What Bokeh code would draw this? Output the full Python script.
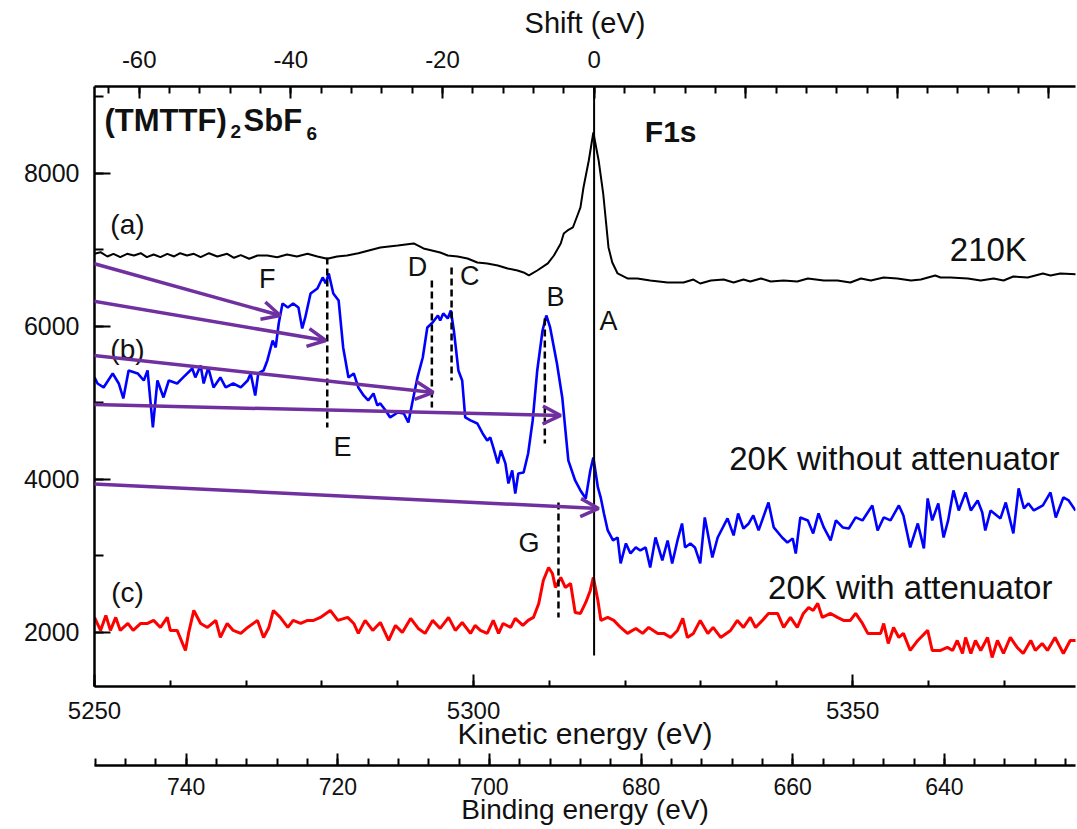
from bokeh.plotting import figure
from bokeh.models import (Range1d, LinearAxis, SingleIntervalTicker, FixedTicker,
                          Label, Arrow, OpenHead, ColumnDataSource)
from bokeh.embed import file_html
from bokeh.resources import INLINE

FONT = "Liberation Sans"
PURPLE = "#7030A0"

# ---------------- data (kinetic energy eV, counts) ----------------
curve_a_210K = [
    (5250.0, 6950), (5250.8, 6971), (5251.7, 6915), (5252.5, 6950), (5253.4, 6906),
    (5254.3, 6950), (5255.2, 6928), (5256.1, 6958), (5256.9, 6906), (5257.8, 6941),
    (5258.7, 6906), (5259.6, 6950), (5260.5, 6915), (5261.3, 6958), (5262.2, 6928),
    (5263.1, 6950), (5264.0, 6906), (5265.1, 6958), (5266.2, 6915), (5267.5, 6950),
    (5268.4, 6898), (5269.3, 6932), (5270.4, 6885), (5271.5, 6928), (5272.8, 6928),
    (5274.1, 6906), (5275.4, 6941), (5276.7, 6915), (5278.1, 6950), (5279.4, 6915),
    (5280.7, 6885), (5282.0, 6915), (5283.3, 6928), (5284.8, 6958), (5287.7, 7033),
    (5290.0, 7059), (5292.1, 7085), (5293.4, 7020), (5295.6, 6967), (5296.6, 6928),
    (5297.9, 6915), (5299.2, 6889), (5300.5, 6837), (5301.8, 6824), (5303.2, 6797),
    (5304.5, 6758), (5305.8, 6732), (5306.6, 6706), (5307.3, 6667), (5308.4, 6732),
    (5309.8, 6824), (5310.6, 6928), (5311.5, 7085), (5311.9, 7216), (5312.4, 7255),
    (5313.1, 7294), (5313.7, 7451), (5314.1, 7556), (5314.5, 7817), (5315.2, 8170),
    (5315.8, 8536), (5316.5, 8170), (5317.1, 7738), (5317.8, 7033), (5318.3, 6837),
    (5319.0, 6693), (5320.3, 6628), (5321.6, 6628), (5323.3, 6601), (5325.6, 6575),
    (5327.7, 6575), (5329.0, 6614), (5329.9, 6562), (5331.3, 6601), (5333.0, 6614),
    (5334.3, 6575), (5335.6, 6614), (5336.5, 6588), (5337.9, 6628), (5339.2, 6588),
    (5340.9, 6601), (5342.7, 6588), (5344.1, 6628), (5346.2, 6601), (5348.0, 6601),
    (5349.7, 6575), (5351.1, 6628), (5352.4, 6601), (5354.1, 6641), (5355.9, 6628),
    (5357.7, 6601), (5359.0, 6614), (5360.9, 6667), (5361.6, 6641), (5362.9, 6641),
    (5365.2, 6628), (5366.9, 6601), (5368.6, 6628), (5369.9, 6601), (5371.2, 6654),
    (5373.1, 6641), (5375.1, 6693), (5376.1, 6667), (5377.4, 6693), (5379.7, 6680),
]

curve_b_20K_no_att = [
    (5250.0, 5334), (5250.4, 5255), (5251.2, 5203), (5252.4, 5386), (5253.2, 5255),
    (5253.8, 5059), (5254.5, 5425), (5255.7, 5386), (5256.5, 5294), (5257.0, 5425),
    (5257.7, 4680), (5258.3, 5294), (5259.1, 5072), (5259.8, 5294), (5260.9, 5255),
    (5261.7, 5334), (5262.9, 5451), (5263.3, 5334), (5264.0, 5490), (5264.4, 5255),
    (5265.0, 5464), (5265.7, 5203), (5266.6, 5334), (5267.3, 5203), (5268.3, 5255),
    (5269.3, 5203), (5270.2, 5294), (5270.6, 5386), (5271.2, 5098), (5271.6, 5386),
    (5272.3, 5425), (5272.8, 5556), (5273.5, 5817), (5273.9, 5726), (5274.3, 6039),
    (5274.8, 6301), (5275.5, 6249), (5276.2, 6301), (5276.9, 6249), (5277.4, 5974),
    (5277.8, 6118), (5278.5, 6431), (5279.4, 6497), (5280.1, 6641), (5280.5, 6562),
    (5280.9, 6693), (5281.5, 6431), (5282.2, 6340), (5282.8, 5726), (5283.5, 5334),
    (5284.2, 5386), (5284.8, 5203), (5285.5, 5098), (5286.1, 5033), (5286.8, 5125),
    (5287.3, 4968), (5287.7, 4994), (5288.4, 4902), (5289.0, 4811), (5290.0, 4876),
    (5290.8, 4863), (5291.4, 4745), (5291.9, 4994), (5292.6, 5334), (5293.3, 5595),
    (5293.9, 5987), (5294.6, 6052), (5295.3, 6144), (5295.6, 6079), (5296.0, 6170),
    (5296.6, 6105), (5297.0, 6209), (5297.4, 5948), (5298.0, 5425), (5298.5, 5294),
    (5298.9, 4811), (5299.6, 4772), (5300.5, 4732), (5301.2, 4602), (5301.8, 4510),
    (5302.2, 4549), (5302.6, 4420), (5303.2, 4210), (5303.6, 4379), (5304.2, 4210),
    (5304.6, 3948), (5305.1, 4118), (5305.5, 3817), (5305.9, 4079), (5306.6, 4092),
    (5307.2, 4340), (5307.8, 4772), (5308.4, 5425), (5309.1, 5948), (5309.6, 6144),
    (5310.1, 5987), (5311.0, 5517), (5311.7, 5072), (5312.5, 4249), (5313.4, 3987),
    (5314.1, 3857), (5314.8, 3752), (5315.4, 4118), (5315.8, 4288), (5316.4, 3896),
    (5316.8, 3752), (5317.2, 3556), (5317.7, 3334), (5318.4, 3203), (5319.0, 3242),
    (5319.4, 2903), (5320.1, 3164), (5320.7, 3033), (5321.4, 3112), (5322.0, 3072),
    (5322.7, 3112), (5323.3, 2850), (5324.0, 3242), (5324.9, 2942), (5325.6, 3203),
    (5326.2, 2903), (5326.9, 3203), (5327.5, 3425), (5327.9, 3112), (5328.6, 3164),
    (5329.2, 3112), (5329.9, 2903), (5330.5, 3504), (5331.5, 2981), (5332.2, 3242),
    (5333.5, 3491), (5334.3, 3269), (5334.9, 3556), (5335.6, 3360), (5336.3, 3425),
    (5336.9, 3530), (5337.6, 3334), (5338.9, 3700), (5339.6, 3373), (5340.7, 3242),
    (5341.4, 3177), (5342.1, 3229), (5342.5, 3033), (5343.1, 3504), (5344.1, 3465),
    (5344.8, 3295), (5345.5, 3556), (5346.2, 3373), (5347.1, 3203), (5347.8, 3465),
    (5348.7, 3373), (5349.5, 3360), (5350.4, 3504), (5351.3, 3465), (5352.6, 3661),
    (5353.3, 3334), (5354.1, 3504), (5355.0, 3465), (5356.1, 3661), (5356.7, 3530),
    (5357.6, 3112), (5358.6, 3425), (5359.4, 3099), (5359.9, 3752), (5360.5, 3465),
    (5361.3, 3687), (5362.0, 3242), (5362.6, 3465), (5363.3, 3857), (5364.0, 3595),
    (5364.9, 3831), (5365.6, 3595), (5366.5, 3726), (5367.1, 3569), (5367.5, 3334),
    (5368.2, 3595), (5369.5, 3491), (5370.2, 3700), (5371.2, 3295), (5371.9, 3883),
    (5372.6, 3621), (5373.2, 3687), (5373.9, 3595), (5375.1, 3661), (5376.1, 3831),
    (5376.8, 3504), (5377.8, 3765), (5378.5, 3726), (5379.4, 3595),
]

curve_c_20K_att = [
    (5250.0, 2197), (5250.8, 2027), (5251.5, 2223), (5252.1, 2027), (5252.8, 2197),
    (5253.4, 2027), (5254.4, 2118), (5255.1, 2027), (5256.1, 2118), (5257.0, 2118),
    (5257.8, 2158), (5258.7, 2066), (5259.6, 2197), (5260.0, 2027), (5260.9, 2027),
    (5262.0, 1765), (5262.4, 1988), (5263.1, 2288), (5264.0, 2118), (5264.9, 2066),
    (5266.0, 2158), (5266.6, 1935), (5267.5, 2118), (5268.3, 2027), (5269.3, 1988),
    (5270.2, 2066), (5271.5, 2158), (5272.3, 1935), (5273.0, 2066), (5273.6, 2288),
    (5274.5, 2197), (5275.5, 2066), (5276.2, 2158), (5277.2, 2118), (5278.1, 2158),
    (5278.9, 2158), (5279.8, 2197), (5281.1, 2288), (5282.1, 2158), (5283.4, 2197),
    (5284.2, 2118), (5284.8, 1988), (5285.7, 2158), (5286.7, 2027), (5287.7, 2131),
    (5288.8, 1896), (5289.7, 2092), (5290.6, 2001), (5291.7, 2184), (5292.7, 2053),
    (5293.6, 1988), (5294.6, 2158), (5295.6, 2053), (5296.7, 2197), (5297.6, 2027),
    (5298.5, 2131), (5299.6, 1988), (5300.2, 2092), (5300.9, 2027), (5301.8, 1988),
    (5302.6, 2158), (5303.3, 1988), (5303.9, 2118), (5304.9, 2066), (5305.5, 2184),
    (5306.5, 2092), (5307.2, 2158), (5307.9, 2197), (5308.6, 2380), (5309.2, 2680),
    (5309.9, 2850), (5310.4, 2772), (5310.8, 2589), (5311.5, 2720), (5312.1, 2589),
    (5312.8, 2641), (5313.4, 2262), (5314.1, 2249), (5314.8, 2393), (5315.4, 2550),
    (5315.8, 2720), (5316.4, 2419), (5316.8, 2158), (5317.7, 2197), (5318.5, 2158),
    (5319.4, 2066), (5320.3, 1988), (5321.4, 2053), (5322.3, 1988), (5323.1, 2066),
    (5324.3, 1988), (5325.1, 1988), (5326.0, 1935), (5326.9, 2027), (5327.6, 2184),
    (5328.2, 1935), (5329.0, 1988), (5329.9, 2158), (5330.9, 1988), (5331.6, 2066),
    (5332.6, 1935), (5333.9, 2027), (5334.8, 2158), (5335.6, 2066), (5336.5, 2197),
    (5337.2, 2066), (5338.1, 2158), (5338.9, 2249), (5340.1, 2249), (5340.9, 2066),
    (5341.8, 2197), (5342.7, 2066), (5343.5, 2249), (5344.2, 2328), (5344.8, 2288),
    (5345.4, 2380), (5346.0, 2197), (5347.1, 2249), (5348.0, 2197), (5348.8, 2158),
    (5349.7, 2158), (5350.4, 2249), (5351.3, 2118), (5352.0, 1988), (5352.8, 1988),
    (5353.7, 1988), (5354.1, 2118), (5354.7, 1857), (5355.4, 2066), (5356.1, 1935),
    (5356.7, 1988), (5357.6, 1765), (5358.6, 1896), (5359.9, 2027), (5360.5, 1765),
    (5361.6, 1765), (5362.5, 1805), (5363.2, 1765), (5363.8, 1896), (5364.5, 1726),
    (5364.9, 1935), (5365.6, 1726), (5366.2, 1896), (5366.9, 1765), (5367.8, 1935),
    (5368.4, 1674), (5369.1, 1896), (5369.9, 1726), (5370.8, 1935), (5371.7, 1805),
    (5372.5, 1726), (5373.5, 1896), (5374.1, 1765), (5375.0, 1857), (5375.7, 1765),
    (5376.7, 1935), (5377.8, 1726), (5378.7, 1896), (5379.6, 1896),
]

# dashed peak markers: kinetic energy, top count, bottom count
marker_ke = [5280.7, 5294.5, 5297.1, 5309.4, 5311.2]
marker_top = [6902, 6601, 6771, 6105, 3700]
marker_bot = [4681, 4942, 5294, 4471, 2197]

# main line A (shift 0)
line_a_ke = 5315.9
line_a_top = 9137
line_a_bot = 1700

# peak letters
peak_letters = ["F", "E", "D", "C", "B", "A", "G"]
peak_ke = [5272.8, 5282.7, 5292.6, 5299.5, 5310.8, 5317.8, 5307.3]
peak_cnt = [6627, 4419, 6784, 6654, 6379, 6066, 3164]

# arrows: start (ke, cnt) -> end (ke, cnt)
arrow_start_ke = [5237.6, 5237.6, 5237.6, 5237.6, 5237.6]
arrow_start_cnt = [7163, 6536, 5752, 5007, 4000]
arrow_end_ke = [5274.5, 5280.5, 5294.7, 5311.5, 5316.5]
arrow_end_cnt = [6144, 5817, 5138, 4837, 3621]

# axis settings
ke_range = (5250.0, 5379.4)
counts_range = (1294, 9137)
shift_range = (-65.9, 63.5)
binding_range = (752.1, 622.7)
shift_labels = {-60: "-60", -40: "-40", -20: "-20", 0: "0", 20: "", 40: "", 60: ""}

# ---------------- figure ----------------
p = figure(width=1077, height=829, output_backend="svg", toolbar_location=None,
           x_range=Range1d(*ke_range), y_range=Range1d(*counts_range),
           min_border_left=94, min_border_right=2, min_border_top=86,
           min_border_bottom=143)
p.outline_line_color = None
p.grid.visible = False
p.extra_x_ranges = {"shift": Range1d(*shift_range), "bind": Range1d(*binding_range)}


def style_axis(ax, major_in, minor_in, lab_size="24px", title_size="30px"):
    ax.axis_line_width = 2.5
    ax.axis_line_color = "black"
    ax.major_tick_in = major_in
    ax.major_tick_out = 0
    ax.minor_tick_in = minor_in
    ax.minor_tick_out = 0
    ax.major_tick_line_width = 2
    ax.minor_tick_line_width = 2
    ax.major_tick_line_color = "black"
    ax.minor_tick_line_color = "black"
    ax.major_label_text_font = FONT
    ax.major_label_text_font_size = lab_size
    ax.major_label_text_color = "#111111"
    ax.axis_label_text_font = FONT
    ax.axis_label_text_font_size = title_size
    ax.axis_label_text_font_style = "normal"
    ax.axis_label_text_color = "#111111"


# kinetic (main bottom)
kax = p.xaxis[0]
kax.ticker = SingleIntervalTicker(interval=50, num_minor_ticks=5)
style_axis(kax, 12, 6)
kax.major_label_standoff = 15
kax.axis_label = "Kinetic energy (eV)"
kax.axis_label_standoff = -5

# left counts axis
yax = p.yaxis[0]
yax.ticker = SingleIntervalTicker(interval=2000, num_minor_ticks=2)
style_axis(yax, 16, 9, lab_size="25px")
yax.major_label_standoff = 15

# top shift axis
sax = LinearAxis(x_range_name="shift",
                 ticker=SingleIntervalTicker(interval=20, num_minor_ticks=5),
                 major_label_overrides=shift_labels, axis_label="Shift (eV)")
style_axis(sax, 12, 7, title_size="29px")
sax.major_label_standoff = 19
sax.axis_label_standoff = 9
p.add_layout(sax, "above")

# spacer between the two bottom axes
spacer = LinearAxis(ticker=FixedTicker(ticks=[]), axis_line_color=None,
                    major_tick_line_color=None, minor_tick_line_color=None,
                    major_tick_in=0, major_tick_out=0, minor_tick_in=0, minor_tick_out=0,
                    major_label_standoff=0, axis_label=" ", axis_label_standoff=0,
                    axis_label_text_font_size="9px")
p.add_layout(spacer, "below")

# binding energy axis
bax = LinearAxis(x_range_name="bind",
                 ticker=SingleIntervalTicker(interval=20, num_minor_ticks=5),
                 axis_label="Binding energy (eV)")
style_axis(bax, 12, 7, lab_size="23px", title_size="28px")
bax.major_label_standoff = 12
bax.axis_label_standoff = -4
p.add_layout(bax, "below")

# ---------------- curves ----------------
def src(points):
    return ColumnDataSource(dict(x=[a for a, _ in points], y=[b for _, b in points]))

p.line("x", "y", source=src(curve_a_210K), line_color="black", line_width=2)
p.line("x", "y", source=src(curve_b_20K_no_att), line_color="#0000FF", line_width=2.6)
p.line("x", "y", source=src(curve_c_20K_att), line_color="#FF0000", line_width=3)

p.segment(x0=marker_ke, y0=marker_top, x1=marker_ke, y1=marker_bot,
          line_color="black", line_width=2.5, line_dash="7 4")
p.segment(x0=[line_a_ke], y0=[line_a_top], x1=[line_a_ke], y1=[line_a_bot],
          line_color="black", line_width=2)

# ---------------- texts ----------------
def lab(x, y, text, size="26px", style="normal", align="center"):
    p.add_layout(Label(x=x, y=y, text=text, text_font=FONT, text_font_size=size,
                       text_font_style=style, text_align=align, text_baseline="middle",
                       text_color="#111111"))

for t, xk, yc in zip(peak_letters, peak_ke, peak_cnt):
    lab(xk, yc, t, size="27px")

lab(5254.35, 7333, "(a)", size="28px")
lab(5254.35, 5700, "(b)", size="28px")
lab(5254.35, 2524, "(c)", size="28px")
lab(5367.9, 7007, "210K", size="33px")
lab(5355.5, 4275, "20K without attenuator", size="33px")
lab(5357.6, 2589, "20K with attenuator", size="33px")
lab(5326.0, 8549, "F1s", size="30px", style="bold")

# chemical formula (TMTTF)2SbF6 with subscripts
lab(5251.32, 8693, "(TMTTF)", size="31px", style="bold", align="left")
lab(5267.94, 8549, "2", size="19px", style="bold", align="left")
lab(5269.66, 8693, "SbF", size="31px", style="bold", align="left")
lab(5277.97, 8523, "6", size="19px", style="bold", align="left")

# ---------------- arrows ----------------
for xs, ys, xe, ye in zip(arrow_start_ke, arrow_start_cnt, arrow_end_ke, arrow_end_cnt):
    p.add_layout(Arrow(end=OpenHead(size=18, line_color=PURPLE, line_width=3.5),
                       x_start=xs, y_start=ys, x_end=xe, y_end=ye,
                       line_color=PURPLE, line_width=3.5))

open("out.html", "w").write(file_html(p, INLINE))
